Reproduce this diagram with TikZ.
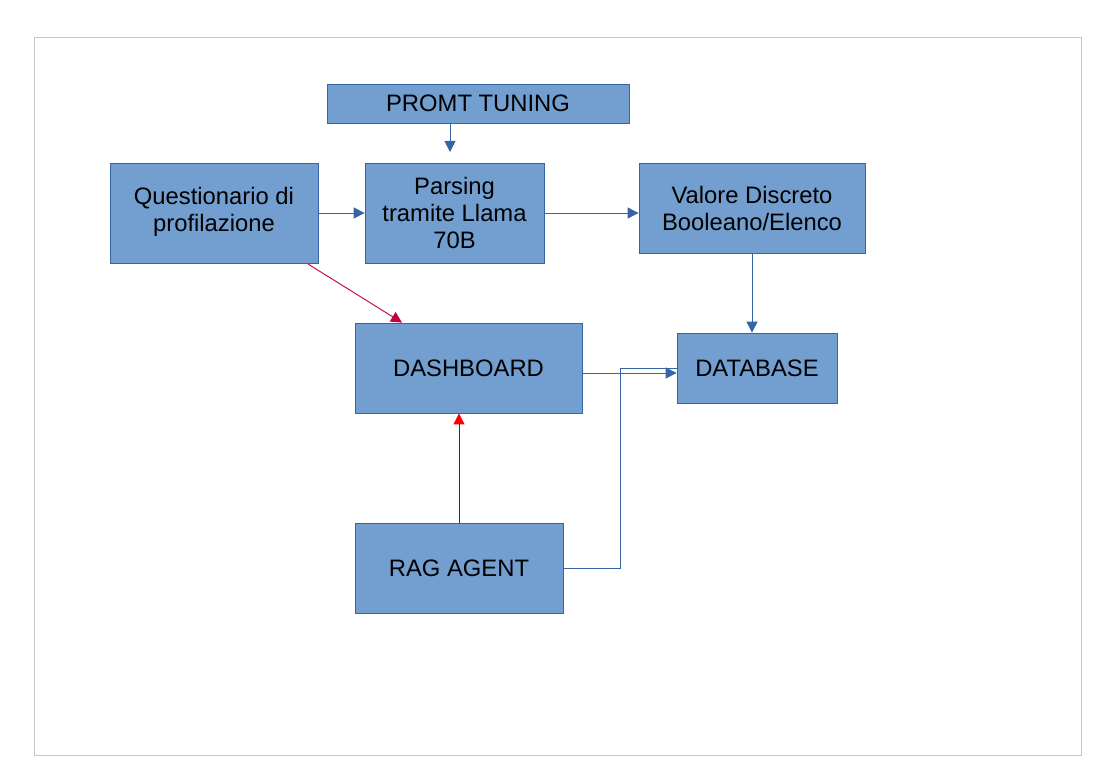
\documentclass[tikz,border=0pt]{standalone}
\usepackage{fontspec}
\setmainfont{Liberation Sans}
\usetikzlibrary{arrows.meta}
\definecolor{boxfill}{HTML}{729FCF}
\definecolor{boxline}{HTML}{3465A4}
\definecolor{crim}{RGB}{192,0,64}
\definecolor{darkred}{RGB}{128,16,16}
\begin{document}
\begin{tikzpicture}[x=1pt,y=-1pt,
  box/.style={draw=boxline,fill=boxfill,line width=0.8pt,inner sep=0pt,align=center,
    font=\fontsize{23.8}{27}\selectfont,text=black},
  conn/.style={draw=boxline,line width=0.9pt},
  arr/.style={conn,-{Triangle[length=11pt,width=11pt]}}]
\useasboundingbox (0,0) rectangle (1106,773);
\draw[draw=black!22,line width=0.8pt] (34,37) rectangle (1081,755);
\node[box,minimum width=302pt,minimum height=39pt] (promt) at (478,103.5) {PROMT TUNING};
\node[box,minimum width=208pt,minimum height=100pt] (quest) at (214,213) {\raisebox{-3pt}{\begin{tabular}{@{}c@{}}Questionario di\\profilazione\end{tabular}}};
\node[box,minimum width=179pt,minimum height=100pt] (pars) at (454.5,213) {Parsing\\tramite Llama\\70B};
\node[box,minimum width=226pt,minimum height=90pt] (val) at (752,208) {Valore Discreto\\Booleano/Elenco};
\node[box,minimum width=227pt,minimum height=90pt] (dash) at (468.5,368) {DASHBOARD};
\node[box,minimum width=160pt,minimum height=70pt] (db) at (757,368) {DATABASE};
\node[box,minimum width=208pt,minimum height=90pt] (rag) at (459,568) {RAG AGENT};
\coordinate (ptip) at (450,152);
\coordinate (bend) at (620,368);
\coordinate (vx) at (752,0);
\draw[arr] (promt.south -| ptip) -- (ptip);
\draw[arr] (quest.east) -- (pars.west);
\draw[arr] (pars.east) -- (val.west |- pars.east);
\draw[arr] (val.south -| vx) -- (db.north -| vx);
\draw[crim,line width=0.9pt,-{Triangle[length=11pt,width=11pt]}] (308,264) -- (dash.north west -| 402,0);
\draw[arr] (dash.east |- 0,373) -- (db.west |- 0,373);
\draw[conn] (rag.east) -| (bend) -- (db.west |- bend);
\draw[darkred,line width=0.9pt,-{Triangle[length=11pt,width=11pt,color=red]}] (rag.north -| 459,0) -- (dash.south -| 459,0);
\end{tikzpicture}
\end{document}
